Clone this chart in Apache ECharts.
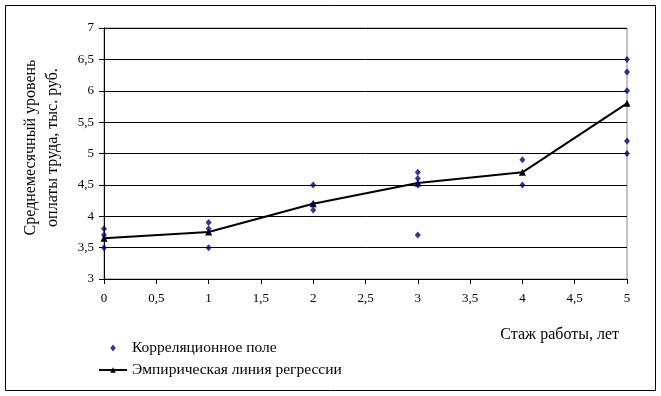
<!DOCTYPE html>
<html><head><meta charset="utf-8">
<script src="https://cdn.jsdelivr.net/npm/echarts@6/dist/echarts.min.js"></script>
<style>html,body{margin:0;padding:0;background:#fff}#c{width:661px;height:396px}</style>
</head><body><div id="c"></div>
<script>
const years = [0, 1, 2, 3, 4, 5];
const regressionLine = [3.65, 3.75, 4.2, 4.53, 4.7, 5.8];
const fieldX = [0, 0, 0, 1, 1, 1, 2, 2, 2, 3, 3, 3, 3, 4, 4, 5, 5, 5, 5, 5];
const fieldY = [3.8, 3.7, 3.5, 3.9, 3.8, 3.5, 4.5, 4.2, 4.1, 4.7, 4.6, 4.5, 3.7, 4.9, 4.5, 6.5, 6.3, 6.0, 5.2, 5.0];
const seriesNames = ['Корреляционное поле', 'Эмпирическая линия регрессии'];
const yAxisTitle = 'Среднемесячный уровень\nоплаты труда, тыс. руб.';
const xAxisTitle = 'Стаж работы, лет';

const font = 'Liberation Serif';
const comma = v => String(v).replace('.', ',');
const chart = echarts.init(document.getElementById('c'));
chart.setOption({
  backgroundColor: '#fff',
  animation: false,
  textStyle: { fontFamily: font, color: '#000' },
  graphic: [{ type: 'rect', shape: { x: 5.5, y: 5.5, width: 650, height: 385 }, style: { fill: 'none', stroke: '#000', lineWidth: 1 } }],
  grid: { left: 104, right: 34, top: 28, bottom: 117, show: true, borderColor: '#888', borderWidth: 1 },
  legend: {
    orient: 'vertical', left: 93, top: 335, itemWidth: 28, itemHeight: 7, itemGap: 6,
    symbolKeepAspect: true,
    textStyle: { fontFamily: font, fontSize: 15.5, color: '#000' },
    data: [
      { name: seriesNames[0], icon: 'path://M0,-1L0.8,0L0,1L-0.8,0Z' },
      { name: seriesNames[1] }
    ]
  },
  xAxis: {
    type: 'value', min: 0, max: 5, interval: 0.5,
    name: xAxisTitle, nameLocation: 'end', nameGap: -8,
    nameTextStyle: { fontFamily: font, fontSize: 16, color: '#000', align: 'right', verticalAlign: 'top', padding: [48, 0, 0, 0] },
    axisLine: { lineStyle: { color: '#000' } },
    axisTick: { lineStyle: { color: '#000' }, length: 5 },
    splitLine: { show: false },
    axisLabel: { formatter: comma, fontFamily: font, fontSize: 13, color: '#000', margin: 13 }
  },
  yAxis: {
    type: 'value', min: 3, max: 7, interval: 0.5,
    name: yAxisTitle, nameLocation: 'middle', nameRotate: 90, nameGap: 40,
    nameTextStyle: { fontFamily: font, fontSize: 16, color: '#000', lineHeight: 22, padding: [0, 0, 0, 12] },
    axisLine: { show: true, lineStyle: { color: '#000' } },
    axisTick: { show: true, lineStyle: { color: '#000' }, length: 5 },
    splitLine: { lineStyle: { color: '#000' } },
    axisLabel: { formatter: comma, fontFamily: font, fontSize: 13, color: '#000', margin: 10 }
  },
  series: [
    {
      name: seriesNames[0], type: 'scatter', symbol: 'diamond', symbolSize: [6, 7],
      itemStyle: { color: '#000080' },
      data: fieldX.map((x, i) => [x, fieldY[i]]), z: 3
    },
    {
      name: seriesNames[1], type: 'line', symbol: 'triangle', symbolSize: 7,
      lineStyle: { color: '#000', width: 2 }, itemStyle: { color: '#000' },
      data: years.map((x, i) => [x, regressionLine[i]]), z: 2
    }
  ]
});
</script></body></html>
